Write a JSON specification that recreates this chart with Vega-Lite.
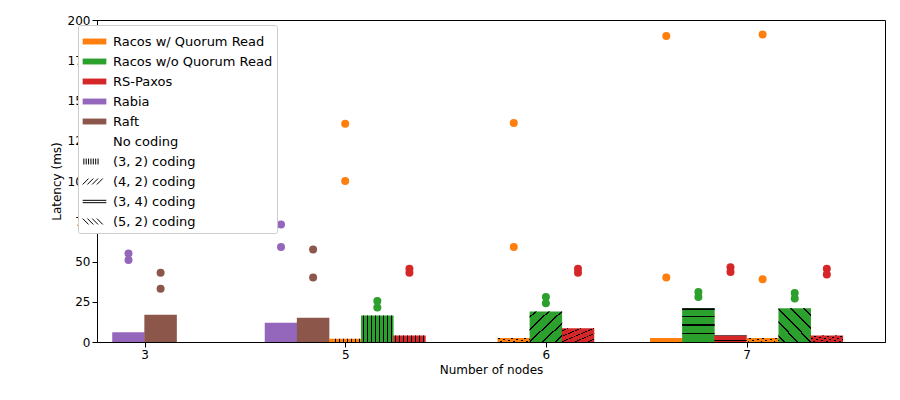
{
"$schema":"https://vega.github.io/schema/vega-lite/v6.json",
"width":788,"height":322,
"autosize":{"type":"none"},
"padding":{"left":97,"top":20,"right":15,"bottom":58},
"config":{"font":"DejaVu Sans","view":{"stroke":"black"},"axis":{"labelFontSize":12,"titleFontSize":12,"titleFontWeight":"normal","grid":false,"domainColor":"black","tickColor":"black","labelColor":"black","titleColor":"black"}},
"datasets":{
"bars":[
{"pos":-0.08,"series":"Rabia","coding":"No coding","lat":6},
{"pos":0.08,"series":"Raft","coding":"No coding","lat":17},
{"pos":0.68,"series":"Rabia","coding":"No coding","lat":12},
{"pos":0.84,"series":"Raft","coding":"No coding","lat":15},
{"pos":1.0,"series":"Racos w/ Quorum Read","coding":"(3, 2) coding","lat":2},
{"pos":1.16,"series":"Racos w/o Quorum Read","coding":"(3, 2) coding","lat":16.5},
{"pos":1.32,"series":"RS-Paxos","coding":"(3, 2) coding","lat":4},
{"pos":1.84,"series":"Racos w/ Quorum Read","coding":"(4, 2) coding","lat":2.5},
{"pos":2.0,"series":"Racos w/o Quorum Read","coding":"(4, 2) coding","lat":19},
{"pos":2.16,"series":"RS-Paxos","coding":"(4, 2) coding","lat":8.5},
{"pos":2.6,"series":"Racos w/ Quorum Read","coding":"(3, 4) coding","lat":2.5},
{"pos":2.76,"series":"Racos w/o Quorum Read","coding":"(3, 4) coding","lat":21},
{"pos":2.92,"series":"RS-Paxos","coding":"(3, 4) coding","lat":4},
{"pos":3.08,"series":"Racos w/ Quorum Read","coding":"(5, 2) coding","lat":2.5},
{"pos":3.24,"series":"Racos w/o Quorum Read","coding":"(5, 2) coding","lat":21},
{"pos":3.4,"series":"RS-Paxos","coding":"(5, 2) coding","lat":4}
],
"pts":[
{"pos":-0.08,"series":"Rabia","lat":55},{"pos":-0.08,"series":"Rabia","lat":51},
{"pos":0.08,"series":"Raft","lat":43},{"pos":0.08,"series":"Raft","lat":33},
{"pos":0.68,"series":"Rabia","lat":73},{"pos":0.68,"series":"Rabia","lat":59},
{"pos":0.84,"series":"Raft","lat":57.5},{"pos":0.84,"series":"Raft","lat":40},
{"pos":1.0,"series":"Racos w/ Quorum Read","lat":135.5},{"pos":1.0,"series":"Racos w/ Quorum Read","lat":100},
{"pos":1.16,"series":"Racos w/o Quorum Read","lat":25.5},{"pos":1.16,"series":"Racos w/o Quorum Read","lat":21.5},
{"pos":1.32,"series":"RS-Paxos","lat":45.5},{"pos":1.32,"series":"RS-Paxos","lat":43},
{"pos":1.84,"series":"Racos w/ Quorum Read","lat":136},{"pos":1.84,"series":"Racos w/ Quorum Read","lat":59},
{"pos":2.0,"series":"Racos w/o Quorum Read","lat":28},{"pos":2.0,"series":"Racos w/o Quorum Read","lat":24},
{"pos":2.16,"series":"RS-Paxos","lat":45.5},{"pos":2.16,"series":"RS-Paxos","lat":43},
{"pos":2.6,"series":"Racos w/ Quorum Read","lat":190},{"pos":2.6,"series":"Racos w/ Quorum Read","lat":40},
{"pos":2.76,"series":"Racos w/o Quorum Read","lat":31},{"pos":2.76,"series":"Racos w/o Quorum Read","lat":28},
{"pos":2.92,"series":"RS-Paxos","lat":46.5},{"pos":2.92,"series":"RS-Paxos","lat":43.5},
{"pos":3.08,"series":"Racos w/ Quorum Read","lat":191},{"pos":3.08,"series":"Racos w/ Quorum Read","lat":39},
{"pos":3.24,"series":"Racos w/o Quorum Read","lat":30.5},{"pos":3.24,"series":"Racos w/o Quorum Read","lat":27},
{"pos":3.4,"series":"RS-Paxos","lat":45.5},{"pos":3.4,"series":"RS-Paxos","lat":42}
]},
"encoding":{
"x":{"field":"pos","type":"quantitative","scale":{"domain":[-0.212,3.665],"nice":false,"zero":false},"axis":{"values":[0,1,2,3],"labelExpr":"['3','5','6','7'][datum.value]","title":"Number of nodes"}},
"y":{"field":"lat","type":"quantitative","scale":{"domain":[0,200],"nice":false},"axis":{"values":[0,25,50,75,100,125,150,175,200],"title":"Latency (ms)"}}
},
"layer":[
{"data":{"name":"bars"},"mark":{"type":"bar","width":32.5},
"encoding":{"color":{"field":"series","type":"nominal",
"scale":{"domain":["Racos w/ Quorum Read","Racos w/o Quorum Read","RS-Paxos","Rabia","Raft","No coding","(3, 2) coding","(4, 2) coding","(3, 4) coding","(5, 2) coding"],
"range":["#ff7f0e","#2ca02c","#d62728","#9467bd","#8c564b","#ffffff","#ffffff","#ffffff","#ffffff","#ffffff"]},
"legend":{"title":null,"orient":"none","legendX":-19,"legendY":5,"labelFontSize":13,"labelColor":"black","symbolSize":560,"rowPadding":-2.7,"padding":4,"labelOffset":6,"fillColor":"white","strokeColor":"#cccccc","cornerRadius":2,"labelLimit":300,"symbolOpacity":1,
"encode":{"symbols":{"update":{
"shape":{"signal":"datum.label==='(3, 2) coding' ? 'M-0.9,-0.25V0.25M-0.7,-0.25V0.25M-0.5,-0.25V0.25M-0.3,-0.25V0.25M-0.1,-0.25V0.25M0.1,-0.25V0.25M0.3,-0.25V0.25' : datum.label==='(4, 2) coding' ? 'M-1,0.25L-0.5,-0.25M-0.6,0.25L-0.1,-0.25M-0.2,0.25L0.3,-0.25M0.2,0.25L0.7,-0.25' : datum.label==='(3, 4) coding' ? 'M-1,-0.1H1M-1,0.1H1' : datum.label==='(5, 2) coding' ? 'M-1,-0.25L-0.5,0.25M-0.6,-0.25L-0.1,0.25M-0.2,-0.25L0.3,0.25M0.2,-0.25L0.7,0.25' : 'M-1,-0.25H1V0.25H-1Z'"},
"stroke":{"signal":"indexof(datum.label,'coding')>0 && datum.label!=='No coding' ? 'black' : 'transparent'"},
"strokeWidth":{"value":1}}}}}}}},
{"data":{"name":"bars"},"transform":[{"filter":"datum.coding==='(3, 2) coding'"}],"mark":{"type":"bar","width":32.5,"color":{"gradient":"linear","x1":0,"y1":0,"x2":1,"y2":0,"stops":[
{"offset":0,"color":"rgba(0,0,0,0)"},{"offset":0.0475,"color":"rgba(0,0,0,0)"},{"offset":0.0475,"color":"black"},{"offset":0.0775,"color":"black"},{"offset":0.0775,"color":"rgba(0,0,0,0)"},{"offset":0.1725,"color":"rgba(0,0,0,0)"},{"offset":0.1725,"color":"black"},{"offset":0.2025,"color":"black"},{"offset":0.2025,"color":"rgba(0,0,0,0)"},{"offset":0.2975,"color":"rgba(0,0,0,0)"},{"offset":0.2975,"color":"black"},{"offset":0.3275,"color":"black"},{"offset":0.3275,"color":"rgba(0,0,0,0)"},{"offset":0.4225,"color":"rgba(0,0,0,0)"},{"offset":0.4225,"color":"black"},{"offset":0.4525,"color":"black"},{"offset":0.4525,"color":"rgba(0,0,0,0)"},{"offset":0.5475,"color":"rgba(0,0,0,0)"},{"offset":0.5475,"color":"black"},{"offset":0.5775,"color":"black"},{"offset":0.5775,"color":"rgba(0,0,0,0)"},{"offset":0.6725,"color":"rgba(0,0,0,0)"},{"offset":0.6725,"color":"black"},{"offset":0.7025,"color":"black"},{"offset":0.7025,"color":"rgba(0,0,0,0)"},{"offset":0.7975,"color":"rgba(0,0,0,0)"},{"offset":0.7975,"color":"black"},{"offset":0.8275,"color":"black"},{"offset":0.8275,"color":"rgba(0,0,0,0)"},{"offset":0.9225,"color":"rgba(0,0,0,0)"},{"offset":0.9225,"color":"black"},{"offset":0.9525,"color":"black"},{"offset":0.9525,"color":"rgba(0,0,0,0)"},{"offset":1,"color":"rgba(0,0,0,0)"}]}}},
{"data":{"name":"bars"},"transform":[{"filter":"datum.coding==='(4, 2) coding'"}],"mark":{"type":"bar","width":32.5,"color":{"gradient":"linear","x1":0,"y1":0,"x2":1,"y2":1,"stops":[
{"offset":0,"color":"rgba(0,0,0,0)"},{"offset":0.08,"color":"rgba(0,0,0,0)"},{"offset":0.08,"color":"black"},{"offset":0.11,"color":"black"},{"offset":0.11,"color":"rgba(0,0,0,0)"},{"offset":0.28,"color":"rgba(0,0,0,0)"},{"offset":0.28,"color":"black"},{"offset":0.31,"color":"black"},{"offset":0.31,"color":"rgba(0,0,0,0)"},{"offset":0.48,"color":"rgba(0,0,0,0)"},{"offset":0.48,"color":"black"},{"offset":0.51,"color":"black"},{"offset":0.51,"color":"rgba(0,0,0,0)"},{"offset":0.68,"color":"rgba(0,0,0,0)"},{"offset":0.68,"color":"black"},{"offset":0.71,"color":"black"},{"offset":0.71,"color":"rgba(0,0,0,0)"},{"offset":0.88,"color":"rgba(0,0,0,0)"},{"offset":0.88,"color":"black"},{"offset":0.91,"color":"black"},{"offset":0.91,"color":"rgba(0,0,0,0)"},{"offset":1,"color":"rgba(0,0,0,0)"}]}}},
{"data":{"name":"bars"},"transform":[{"filter":"datum.coding==='(3, 4) coding'"}],"mark":{"type":"bar","width":32.5,"color":{"gradient":"linear","x1":0,"y1":0,"x2":0,"y2":1,"stops":[
{"offset":0,"color":"black"},{"offset":0.04,"color":"black"},{"offset":0.04,"color":"rgba(0,0,0,0)"},{"offset":0.23,"color":"rgba(0,0,0,0)"},{"offset":0.23,"color":"black"},{"offset":0.27,"color":"black"},{"offset":0.27,"color":"rgba(0,0,0,0)"},{"offset":0.48,"color":"rgba(0,0,0,0)"},{"offset":0.48,"color":"black"},{"offset":0.52,"color":"black"},{"offset":0.52,"color":"rgba(0,0,0,0)"},{"offset":0.73,"color":"rgba(0,0,0,0)"},{"offset":0.73,"color":"black"},{"offset":0.77,"color":"black"},{"offset":0.77,"color":"rgba(0,0,0,0)"},{"offset":1,"color":"rgba(0,0,0,0)"}]}}},
{"data":{"name":"bars"},"transform":[{"filter":"datum.coding==='(5, 2) coding'"}],"mark":{"type":"bar","width":32.5,"color":{"gradient":"linear","x1":0,"y1":1,"x2":1,"y2":0,"stops":[
{"offset":0,"color":"rgba(0,0,0,0)"},{"offset":0.08,"color":"rgba(0,0,0,0)"},{"offset":0.08,"color":"black"},{"offset":0.11,"color":"black"},{"offset":0.11,"color":"rgba(0,0,0,0)"},{"offset":0.28,"color":"rgba(0,0,0,0)"},{"offset":0.28,"color":"black"},{"offset":0.31,"color":"black"},{"offset":0.31,"color":"rgba(0,0,0,0)"},{"offset":0.48,"color":"rgba(0,0,0,0)"},{"offset":0.48,"color":"black"},{"offset":0.51,"color":"black"},{"offset":0.51,"color":"rgba(0,0,0,0)"},{"offset":0.68,"color":"rgba(0,0,0,0)"},{"offset":0.68,"color":"black"},{"offset":0.71,"color":"black"},{"offset":0.71,"color":"rgba(0,0,0,0)"},{"offset":0.88,"color":"rgba(0,0,0,0)"},{"offset":0.88,"color":"black"},{"offset":0.91,"color":"black"},{"offset":0.91,"color":"rgba(0,0,0,0)"},{"offset":1,"color":"rgba(0,0,0,0)"}]}}},
{"data":{"name":"pts"},"mark":{"type":"circle","size":64,"opacity":1},
"encoding":{"color":{"field":"series","type":"nominal","legend":null}}}
]
}
